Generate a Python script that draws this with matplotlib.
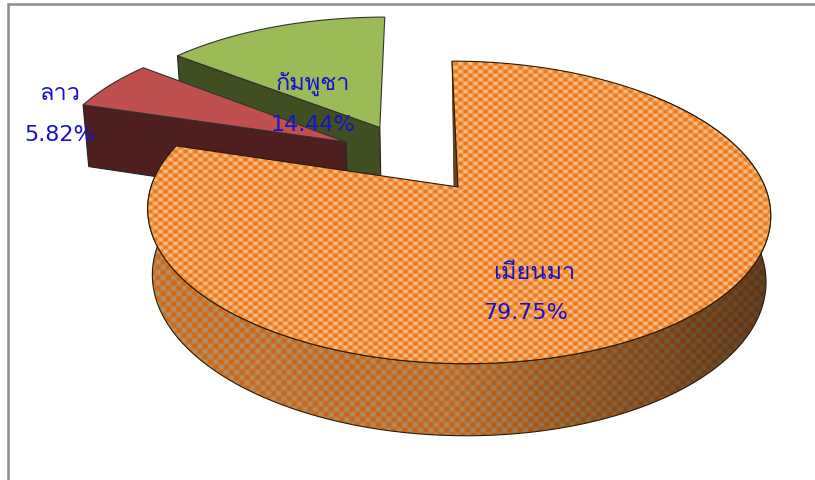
"""Exploded 3D pie of three countries, projected by hand with a perspective map."""
import numpy as np
import matplotlib
matplotlib.use("Agg")
import matplotlib.pyplot as plt
from matplotlib.patches import Polygon

labels = ["เมียนมา", "ลาว", "กัมพูชา"]
shares = [79.75, 5.82, 14.44]

top_colors = [None, "#C0504D", "#9BBB59"]
side_colors = [None, "#4E1F1E", "#3F4F22"]
label_xy = [(534, 273), (60, 93), (313, 84)]
pct_xy = [(526, 313), (60, 135), (313, 125)]

EXPLODE = 0.255
X0, Y0, A, B, SHEAR, K = 458, 188, 307, 147, -7, 0.168
Y0_BOTTOM, SX_BOTTOM, SY_BOTTOM = 253, 0.985, 1.04


def project(u, v, bottom=False):
    w = 1 + K * v
    dx = (A * u + SHEAR * v) / w
    dy = B * v / w
    if bottom:
        return X0 + SX_BOTTOM * dx, Y0_BOTTOM - SY_BOTTOM * dy
    return X0 + dx, Y0 - dy


def weave(dark, light, px, py, contrast, shade=None):
    # woven pattern fill, one value per pixel
    yy, xx = np.mgrid[0:481, 0:815]
    t = 0.45 + 0.5 * np.cos(2 * np.pi * xx / px) * np.cos(2 * np.pi * yy / py)
    t = np.clip((t - 0.5) * contrast + 0.5, 0, 1)[..., None]
    img = np.array(dark) * (1 - t) + np.array(light) * t
    if shade is not None:
        img = img * shade[..., None]
    return np.clip(img / 255, 0, 1)


fig = plt.figure(figsize=(8.15, 4.81), dpi=100)
ax = fig.add_axes([0, 0, 1, 1])

shade = np.interp(np.arange(815), [150, 450, 620, 770], [1.05, 1.0, 0.72, 0.5])
shade = np.tile(shade, (481, 1))
top_tex = weave((236, 122, 28), (248, 192, 138), 10, 8, 1.5)
side_tex = weave((200, 100, 20), (172, 140, 105), 10.5, 10.5, 1.5, shade)

fracs = np.array(shares) / sum(shares)
edges = np.concatenate([[0], np.cumsum(fracs)]) * 2 * np.pi
mids = (edges[:-1] + edges[1:]) / 2
offs_u = EXPLODE * (np.sin(mids) - np.sin(mids[0]))
offs_v = EXPLODE * (np.cos(mids) - np.cos(mids[0]))

# back to front so that the big slice covers the other two
base_z = {2: 3, 1: 5, 0: 7}
for i in [2, 1, 0]:
    z = base_z[i]
    t = np.linspace(edges[i], edges[i + 1], 240)
    u = offs_u[i] + np.sin(t)
    v = offs_v[i] + np.cos(t)
    tx, ty = project(u, v)
    bx, by = project(u, v, bottom=True)
    cx, cy = project(offs_u[i], offs_v[i])
    cbx, cby = project(offs_u[i], offs_v[i], bottom=True)

    top = np.column_stack([np.r_[cx, tx], np.r_[cy, ty]])

    if top_colors[i] is None:
        front = t > np.pi / 4
        rim = np.column_stack([np.r_[tx[front], bx[front][::-1]], np.r_[ty[front], by[front][::-1]]])
        rim_p = Polygon(rim, closed=True, fc="none", ec="#2a1a08", lw=0.8, zorder=z + 0.1)
        ax.add_patch(rim_p)
        im = ax.imshow(side_tex, extent=(0, 815, 481, 0), aspect="auto",
                       interpolation="bilinear", zorder=z)
        im.set_clip_path(rim_p)
        # thin sliver of the cut face seen along the upright edge
        sliver = np.array([[tx[0], ty[0]], [cx, cy], [cx - 4, cy + 2]])
        ax.add_patch(Polygon(sliver, closed=True, fc="#6A4318", ec="#3a2a10", lw=0.5, zorder=z + 0.1))
        top_p = Polygon(top, closed=True, fc="none", ec="#2a1a08", lw=0.8, zorder=z + 0.3)
        ax.add_patch(top_p)
        im = ax.imshow(top_tex, extent=(0, 815, 481, 0), aspect="auto",
                       interpolation="bilinear", zorder=z + 0.2)
        im.set_clip_path(top_p)
    else:
        cut = np.array([[tx[0], ty[0]], [cx, cy], [cbx, cby], [bx[0], by[0]]])
        ax.add_patch(Polygon(cut, closed=True, fc=side_colors[i], ec="#222222", lw=0.8, zorder=z))
        ax.add_patch(Polygon(top, closed=True, fc=top_colors[i], ec="#333333", lw=0.8, zorder=z + 0.4))

for name, share, lxy, pxy in zip(labels, shares, label_xy, pct_xy):
    ax.text(*lxy, name, family=["Loma", "DejaVu Sans"], fontsize=17,
            color="#1414C8", ha="center", va="center", zorder=10)
    ax.text(*pxy, f"{share:.2f}%", family="DejaVu Sans", fontsize=16,
            color="#1414C8", ha="center", va="center", zorder=10)

# frame of the original window, open on the right and at the bottom
ax.plot([8, 8, 815], [481, 5, 5], color="#8C8C8C", lw=1.8, solid_joinstyle="miter", zorder=1)

ax.set_xlim(0, 815)
ax.set_ylim(481, 0)
ax.axis("off")
fig.savefig("out.png", dpi=100)
